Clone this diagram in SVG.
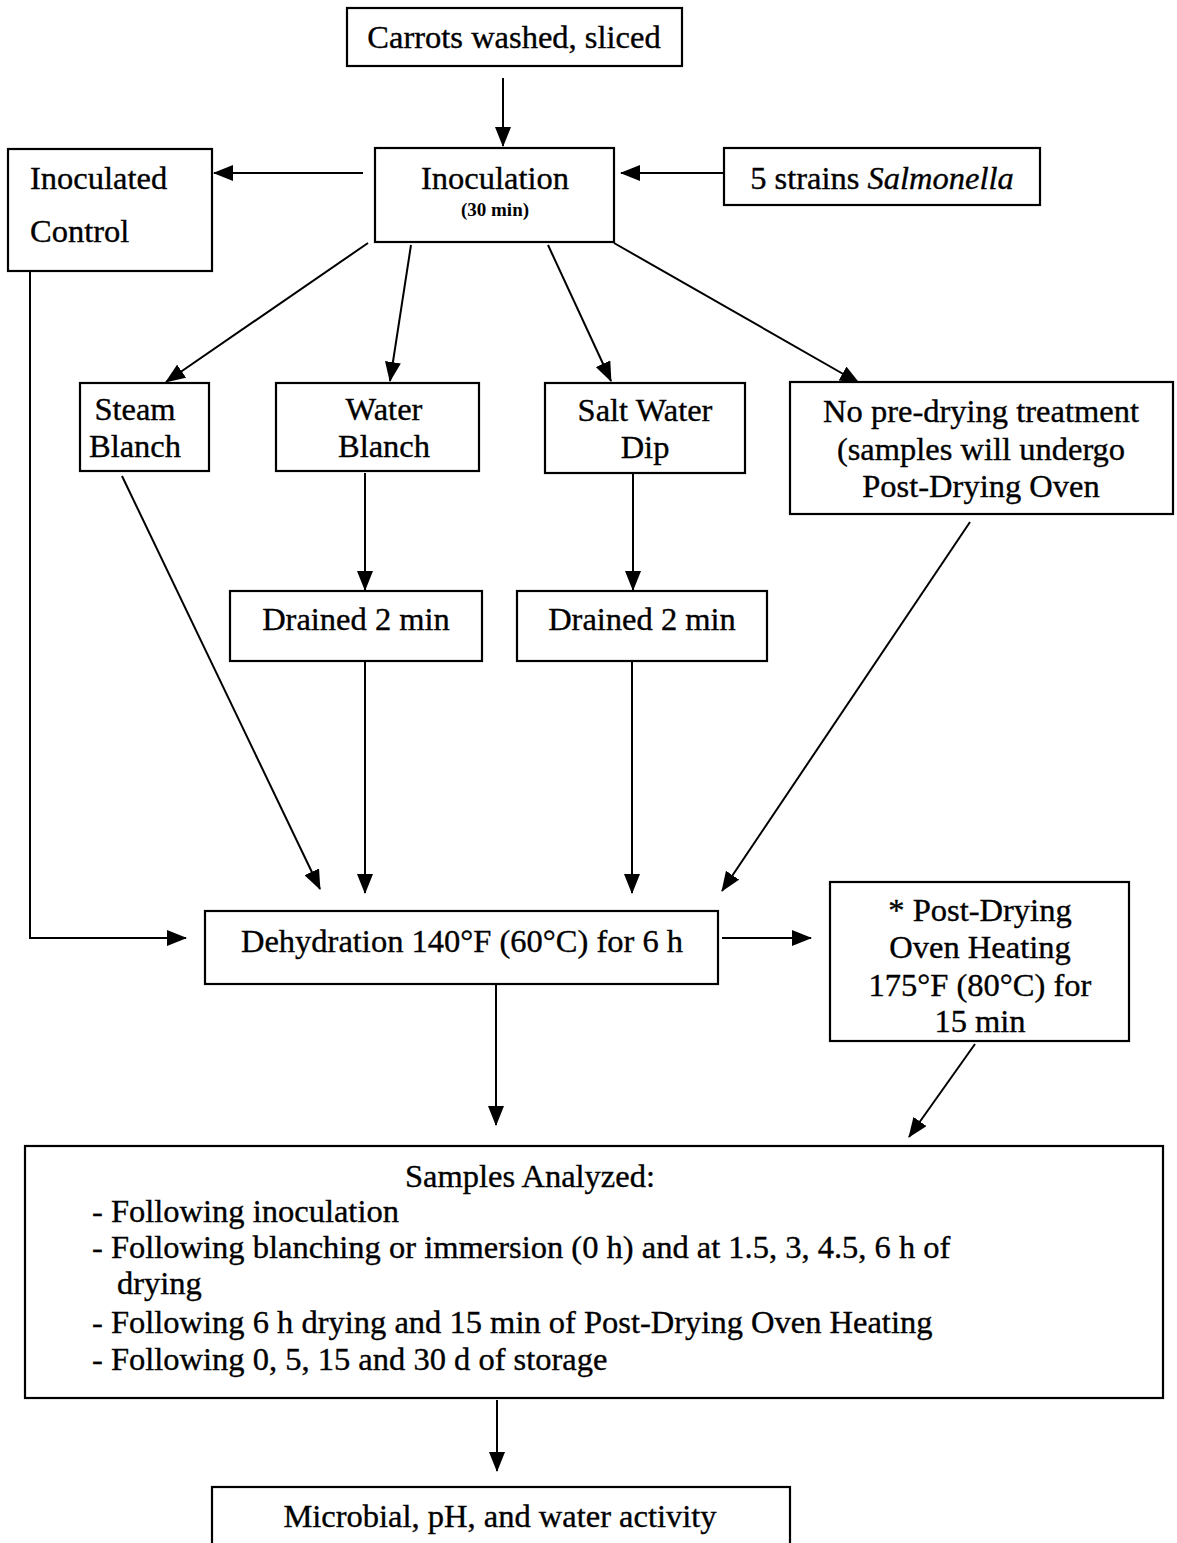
<svg xmlns="http://www.w3.org/2000/svg" width="1177" height="1543" viewBox="0 0 1177 1543">
<style>
.b{fill:#fff;stroke:#000;stroke-width:2.2}
.t{font-family:"Liberation Serif","Times New Roman",serif;font-size:32.5px;fill:#000;stroke:#000;stroke-width:0.35}
.c{text-anchor:middle}
.s{font-size:19px;font-weight:bold;stroke-width:0}
.l{fill:none;stroke:#000;stroke-width:2}
</style>
<defs>
<marker id="a" markerUnits="userSpaceOnUse" markerWidth="20" markerHeight="16" refX="19" refY="8" orient="auto">
<path d="M0,0 L20,8 L0,16 Z" fill="#000"/>
</marker>
</defs>
<rect width="1177" height="1543" fill="#fff"/>
<g id="connectors">
<line class="l" x1="503" y1="78" x2="503" y2="146" marker-end="url(#a)"/>
<line class="l" x1="363" y1="173" x2="214" y2="173" marker-end="url(#a)"/>
<line class="l" x1="724" y1="173" x2="621" y2="173" marker-end="url(#a)"/>
<line class="l" x1="368" y1="243" x2="166" y2="382" marker-end="url(#a)"/>
<line class="l" x1="411" y1="245" x2="390" y2="381" marker-end="url(#a)"/>
<line class="l" x1="548" y1="245" x2="611" y2="381" marker-end="url(#a)"/>
<line class="l" x1="614" y1="243" x2="859" y2="383" marker-end="url(#a)"/>
<line class="l" x1="365" y1="473" x2="365" y2="590" marker-end="url(#a)"/>
<line class="l" x1="633" y1="473" x2="633" y2="590" marker-end="url(#a)"/>
<line class="l" x1="122" y1="476" x2="320" y2="889" marker-end="url(#a)"/>
<line class="l" x1="365" y1="662" x2="365" y2="893" marker-end="url(#a)"/>
<line class="l" x1="632" y1="662" x2="632" y2="893" marker-end="url(#a)"/>
<line class="l" x1="970" y1="522" x2="722" y2="891" marker-end="url(#a)"/>
<polyline class="l" points="30,271 30,938 186,938" marker-end="url(#a)"/>
<line class="l" x1="722" y1="938" x2="811" y2="938" marker-end="url(#a)"/>
<line class="l" x1="496" y1="985" x2="496" y2="1125" marker-end="url(#a)"/>
<line class="l" x1="975" y1="1044" x2="909" y2="1137" marker-end="url(#a)"/>
<line class="l" x1="497" y1="1400" x2="497" y2="1471" marker-end="url(#a)"/>
</g>
<g id="carrots"><rect class="b" x="347" y="8" width="335" height="58"/><text class="t c" x="514" y="48">Carrots washed, sliced</text></g>
<g id="inoculation"><rect class="b" x="375" y="148" width="239" height="94"/><text class="t c" x="495" y="189">Inoculation</text><text class="t c s" x="495" y="216">(30 min)</text></g>
<g id="control"><rect class="b" x="8" y="149" width="204" height="122"/><text class="t" x="30" y="189">Inoculated</text><text class="t" x="30" y="242">Control</text></g>
<g id="salmonella"><rect class="b" x="724" y="148" width="316" height="57"/><text class="t c" x="882" y="189">5 strains <tspan font-style="italic">Salmonella</tspan></text></g>
<g id="steam"><rect class="b" x="80" y="383" width="129" height="88"/><text class="t c" x="135" y="420">Steam</text><text class="t c" x="135" y="457">Blanch</text></g>
<g id="water"><rect class="b" x="276" y="383" width="203" height="88"/><text class="t c" x="384" y="420">Water</text><text class="t c" x="384" y="457">Blanch</text></g>
<g id="salt"><rect class="b" x="545" y="383" width="200" height="90"/><text class="t c" x="645" y="421">Salt Water</text><text class="t c" x="645" y="458">Dip</text></g>
<g id="nopre"><rect class="b" x="790" y="382" width="383" height="132"/><text class="t c" x="981" y="422">No pre-drying treatment</text><text class="t c" x="981" y="460">(samples will undergo</text><text class="t c" x="981" y="497">Post-Drying Oven</text></g>
<g id="drained1"><rect class="b" x="230" y="591" width="252" height="70"/><text class="t c" x="356" y="630">Drained 2 min</text></g>
<g id="drained2"><rect class="b" x="517" y="591" width="250" height="70"/><text class="t c" x="642" y="630">Drained 2 min</text></g>
<g id="dehydration"><rect class="b" x="205" y="911" width="513" height="73"/><text class="t c" x="462" y="952">Dehydration 140°F (60°C) for 6 h</text></g>
<g id="postdrying"><rect class="b" x="830" y="882" width="299" height="159"/><text class="t c" x="980" y="921">* Post-Drying</text><text class="t c" x="980" y="958">Oven Heating</text><text class="t c" x="980" y="996">175°F (80°C) for</text><text class="t c" x="980" y="1032">15 min</text></g>
<g id="samples"><rect class="b" x="25" y="1146" width="1138" height="252"/><text class="t c" x="530" y="1187">Samples Analyzed:</text><text class="t" x="92" y="1222">- Following inoculation</text><text class="t" x="92" y="1258">- Following blanching or immersion (0 h) and at 1.5, 3, 4.5, 6 h of</text><text class="t" x="117" y="1294">drying</text><text class="t" x="92" y="1333">- Following 6 h drying and 15 min of Post-Drying Oven Heating</text><text class="t" x="92" y="1370">- Following 0, 5, 15 and 30 d of storage</text></g>
<g id="microbial"><rect class="b" x="212" y="1487" width="578" height="70"/><text class="t c" x="500" y="1527">Microbial, pH, and water activity</text></g>
</svg>
